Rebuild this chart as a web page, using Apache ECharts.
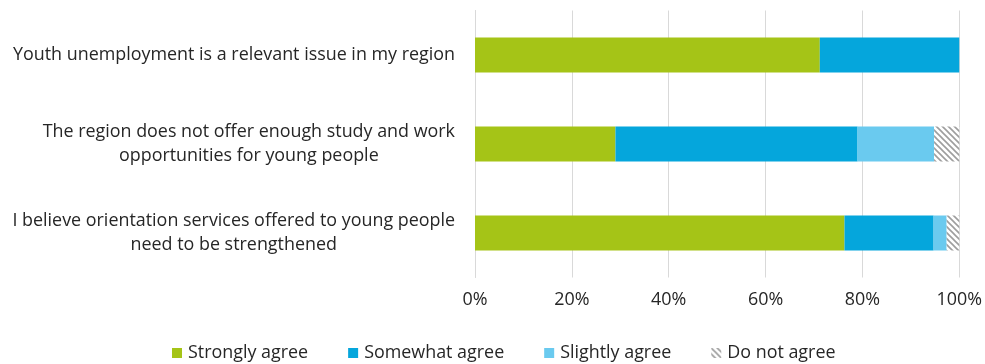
<!DOCTYPE html>
<html><head><meta charset="utf-8">
<script src="https://cdn.jsdelivr.net/npm/echarts@6/dist/echarts.min.js"></script>
<style>html,body{margin:0;padding:0;background:#fff}#c{width:985px;height:364px}</style>
</head><body><div id="c"></div>
<script>
const categories = [
  "Youth unemployment is a relevant issue in my region",
  "The region does not offer enough study and work\nopportunities for young people",
  "I believe orientation services offered to young people\nneed to be strengthened"
];
const seriesNames = ["Strongly agree", "Somewhat agree", "Slightly agree", "Do not agree"];
const stronglyAgree = [71.2, 29.0, 76.3];
const somewhatAgree = [28.8, 50.0, 18.4];
const slightlyAgree = [0, 15.8, 2.7];
const doNotAgree = [0, 5.2, 2.6];
const xTicks = [0, 20, 40, 60, 80, 100];

function hatch() {
  const c = document.createElement('canvas');
  c.width = 6; c.height = 6;
  const g = c.getContext('2d');
  g.fillStyle = '#fff'; g.fillRect(0, 0, 6, 6);
  g.strokeStyle = '#9e9e9e'; g.lineWidth = 1.6;
  g.beginPath();
  g.moveTo(-1, -1); g.lineTo(7, 7);
  g.moveTo(-1, 5); g.lineTo(1, 7);
  g.moveTo(5, -1); g.lineTo(7, 1);
  g.stroke();
  return c;
}
const colors = ['#a5c417', '#05a6dc', '#6acaef', {image: hatch(), repeat: 'repeat'}];
const values = [stronglyAgree, somewhatAgree, slightlyAgree, doNotAgree];
const FONT = '"Open Sans"';
const FS = 17.9;
const chart = echarts.init(document.getElementById('c'));
chart.setOption({
  animation: false,
  textStyle: {fontFamily: FONT},
  grid: {left: 475, right: 24, top: 10.5, bottom: 86.5, containLabel: false},
  legend: {
    left: 167, top: 339, itemWidth: 10, itemHeight: 10, itemGap: 40,
    icon: 'rect',
    textStyle: {fontFamily: FONT, fontSize: FS, color: '#262626', padding: [0, 0, 0, 1]},
    data: seriesNames
  },
  xAxis: {
    type: 'value', min: 0, max: 100, interval: 20,
    axisLine: {show: false}, axisTick: {show: false},
    splitLine: {lineStyle: {color: '#d9d9d9', width: 1}},
    axisLabel: {fontFamily: FONT, fontSize: FS, color: '#262626', margin: 13,
      formatter: v => xTicks.includes(v) ? v + '%' : ''}
  },
  yAxis: {
    type: 'category', inverse: true, data: categories,
    axisLine: {show: true, lineStyle: {color: '#d9d9d9'}}, axisTick: {show: false},
    axisLabel: {
      margin: 20, align: 'right', color: '#262626', fontSize: FS, fontFamily: FONT, lineHeight: 24,
      formatter: v => v.split('\n').map(l => '{c|' + l + '}').join('\n'),
      rich: {c: {align: 'center', fontSize: FS, fontFamily: FONT, color: '#262626', lineHeight: 24}}
    }
  },
  series: seriesNames.map((n, i) => ({
    name: n, type: 'bar', stack: 'all', barWidth: 35,
    itemStyle: {color: colors[i]},
    data: values[i]
  }))
});
</script></body></html>
